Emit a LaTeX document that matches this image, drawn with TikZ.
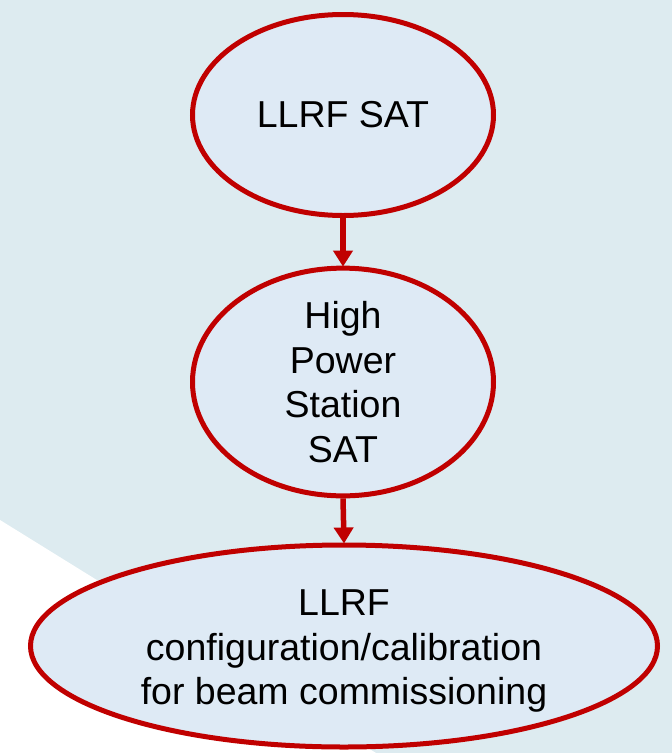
\documentclass[tikz,border=0pt]{standalone}
\usepackage{fontspec}
\setmainfont{Liberation Sans}
\usetikzlibrary{shapes.geometric,arrows.meta}
\definecolor{bgblue}{RGB}{221,235,240}
\definecolor{ellfill}{RGB}{222,234,245}
\definecolor{darkred}{RGB}{192,0,0}
\tikzset{
  oval/.style={ellipse, draw=darkred, line width=5pt, fill=ellfill, inner sep=0pt,
    align=center, font=\fontsize{37.5}{44.5}\selectfont, text=black},
  flow/.style={draw=darkred, line width=5.5pt, -{Triangle[length=16pt,width=19pt]}, shorten >=-1pt}
}
\begin{document}
\begin{tikzpicture}[x=1pt,y=-1pt]
\useasboundingbox (0,0) rectangle (672,753);
\fill[bgblue] (0,0) rectangle (672,753);
\fill[white] (0,520) -- (376,753) -- (0,753) -- cycle;
\node[oval, minimum width=301pt, minimum height=201pt] (a) at (343,115) {LLRF SAT};
\node[oval, minimum width=301pt, minimum height=204pt] (b) at (343,382) {High\\Power\\Station\\SAT};
\node[oval, minimum width=627pt, minimum height=202pt] (c) at (344,646) {};
\node[align=center, font=\fontsize{37.5}{44.5}\selectfont, inner sep=0pt] (ct) at (344,651) {LLRF\\configuration/calibration\\for beam commissioning};
\draw[flow] (a.south) -- (b.north);
\draw[flow] (b.south) -- (c.north);
\end{tikzpicture}
\end{document}
